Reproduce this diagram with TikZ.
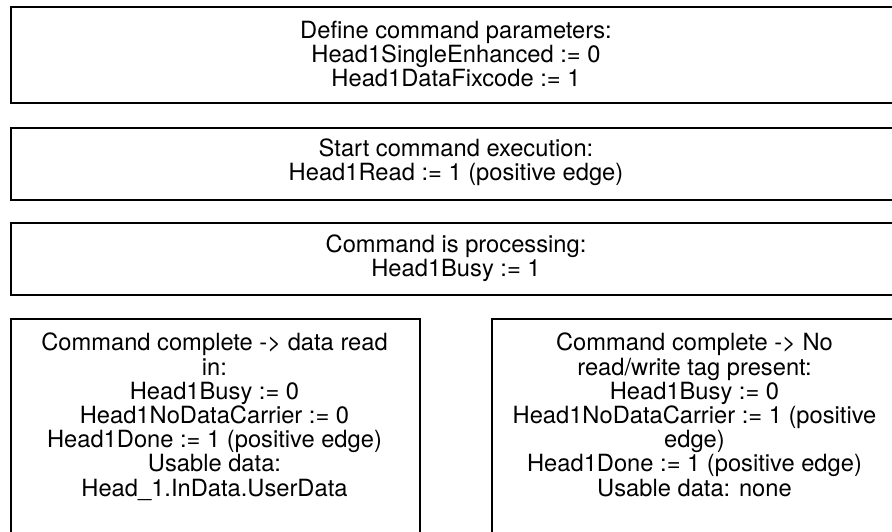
\documentclass[tikz,border=0pt]{standalone}
\usepackage{fontspec}
\setmainfont{TeX Gyre Heros}
\begin{document}
\begin{tikzpicture}[x=1pt,y=-1pt,
  boxstyle/.style={draw=black,line width=1.6pt,rectangle,inner sep=0pt,anchor=north west},
  txt/.style={align=center,inner sep=0pt,font=\fontsize{23.7}{24.2}\selectfont}]
\useasboundingbox (0,0) rectangle (892,531);
\clip (0,0) rectangle (892,531);
% box 1
\node[boxstyle,minimum width=892pt,minimum height=96pt] (b1) at (10,6) {};
\node[txt] (t1) at (456,54) {Define command parameters:\\Head1SingleEnhanced := 0\\Head1DataFixcode := 1};
% box 2
\node[boxstyle,minimum width=892pt,minimum height=72pt] (b2) at (10,127) {};
\node[txt] (t2) at (456,162) {Start command execution:\\Head1Read := 1 (positive edge)};
% box 3
\node[boxstyle,minimum width=892pt,minimum height=72pt] (b3) at (10,222) {};
\node[txt] (t3) at (456,258) {Command is processing:\\Head1Busy := 1};
% box 4
\node[boxstyle,minimum width=409pt,minimum height=260pt] (b4) at (10,318) {};
\node[txt,anchor=north] (t4) at (214.5,333) {Command complete -> data read\\in:\\Head1Busy := 0\\Head1NoDataCarrier := 0\\Head1Done := 1 (positive edge)\\Usable data:\\Head\_1.InData.UserData};
% box 5
\node[boxstyle,minimum width=407pt,minimum height=260pt] (b5) at (491,318) {};
\node[txt,anchor=north] (t5) at (694.5,333) {Command complete -> No\\read/write tag present:\\Head1Busy := 0\\Head1NoDataCarrier := 1 (positive\\edge)\\Head1Done := 1 (positive edge)\\Usable data: none};
\end{tikzpicture}
\end{document}
